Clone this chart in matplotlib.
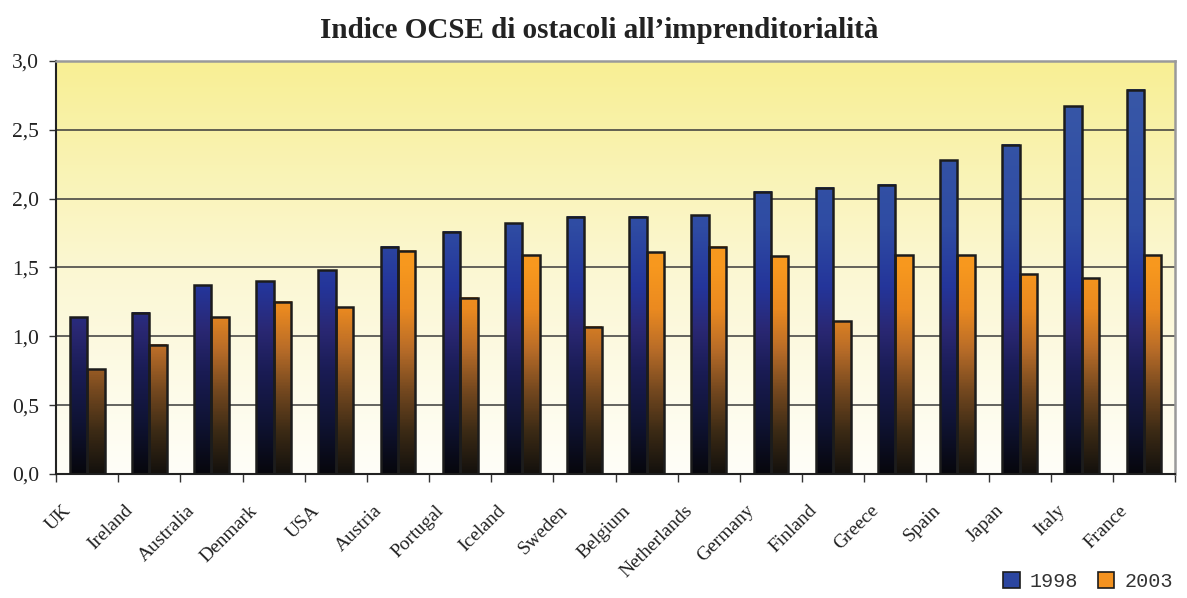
import numpy as np
import matplotlib.pyplot as plt
from matplotlib.colors import LinearSegmentedColormap, Normalize
from matplotlib.patches import Patch
from matplotlib.transforms import ScaledTranslation

countries = ['UK', 'Ireland', 'Australia', 'Denmark', 'USA', 'Austria', 'Portugal',
             'Iceland', 'Sweden', 'Belgium', 'Netherlands', 'Germany', 'Finland',
             'Greece', 'Spain', 'Japan', 'Italy', 'France']
idx_1998 = [1.14, 1.17, 1.37, 1.40, 1.48, 1.65, 1.76, 1.82, 1.87, 1.87, 1.88, 2.05,
            2.08, 2.10, 2.28, 2.39, 2.67, 2.79]
idx_2003 = [0.76, 0.94, 1.14, 1.25, 1.21, 1.62, 1.28, 1.59, 1.07, 1.61, 1.65, 1.58,
            1.11, 1.59, 1.59, 1.45, 1.42, 1.59]
series = ['1998', '2003']
y_ticks = [0.0, 0.5, 1.0, 1.5, 2.0, 2.5, 3.0]
y_ticklabels = ['0,0', '0,5', '1,0', '1,5', '2,0', '2,5', '3,0']

serif = 'Liberation Serif'

# colour ramps run on absolute height, so every bar darkens towards the baseline
blue_cmap = LinearSegmentedColormap.from_list('blue_fade', [
    (0.0, '#07070d'), (0.12, '#0f1333'), (0.25, '#1a1c55'), (0.35, '#2a2874'),
    (0.45, '#24359a'), (0.6, '#2f4ca3'), (1.0, '#3a5aa8')])
orange_cmap = LinearSegmentedColormap.from_list('orange_fade', [
    (0.0, '#14110d'), (0.1, '#3b2a15'), (0.2, '#74481f'), (0.3, '#b86c28'),
    (0.4, '#eb8a20'), (0.5, '#f7981e'), (1.0, '#f8a024')])
norm = Normalize(0, 3.0)

fig = plt.figure(figsize=(11.87, 5.98), dpi=100)
ax = fig.add_axes([0.0472, 0.2074, 0.9427, 0.6906])

# pale yellow backdrop
bg = np.linspace(0, 1, 256).reshape(-1, 1)
bg_cmap = LinearSegmentedColormap.from_list('bg', ['#fffef8', '#fbf7d2', '#f8ef94'])
ax.imshow(bg, extent=[0, 1, 0, 1], transform=ax.transAxes, origin='lower',
          aspect='auto', cmap=bg_cmap, zorder=0)

x = np.arange(len(countries))
w = 0.28
bars_a = ax.bar(x - w / 2, idx_1998, w, facecolor='none', edgecolor='#1c1c1c',
                linewidth=1.8, zorder=3)
bars_b = ax.bar(x + w / 2, idx_2003, w, facecolor='none', edgecolor='#1c1c1c',
                linewidth=1.8, zorder=3)

ramp = np.linspace(0, 3.0, 400).reshape(-1, 1)
for bars, cmap in ((bars_a, blue_cmap), (bars_b, orange_cmap)):
    for r in bars:
        x0, h, bw = r.get_x(), r.get_height(), r.get_width()
        vals = ramp[ramp[:, 0] <= h]
        ax.imshow(vals, extent=[x0, x0 + bw, 0, h], origin='lower', aspect='auto',
                  cmap=cmap, norm=norm, zorder=2, interpolation='bilinear')

ax.set_xlim(-0.5, len(countries) - 0.5)
ax.set_ylim(0, 3.0)

ax.set_yticks(y_ticks)
ax.set_yticklabels(y_ticklabels, fontsize=15.5, family=serif, color='#222222')
ax.set_xticks(np.arange(len(countries) + 1) - 0.5)
ax.set_xticklabels([])
ax.tick_params(axis='y', length=5, width=1, color='#333333', pad=7)
ax.tick_params(axis='x', length=6, width=1, color='#333333')

for yv in y_ticks[1:-1]:
    ax.axhline(yv, color='#3a3a3a', linewidth=1.1, zorder=1)

for side in ('left', 'bottom'):
    ax.spines[side].set_color('#222222')
    ax.spines[side].set_linewidth(1.5)
for side in ('top', 'right'):
    ax.spines[side].set_color('#9a9a9a')
    ax.spines[side].set_linewidth(1.8)

label_shift = ax.get_xaxis_transform() + ScaledTranslation(-0.13, -0.28, fig.dpi_scale_trans)
for xi, name in zip(x, countries):
    ax.text(xi, 0, name, transform=label_shift, rotation=45, ha='right', va='top',
            fontsize=14, family=serif, color='#222222')

fig.suptitle("Indice OCSE di ostacoli all\u2019imprenditorialità", x=0.505, y=0.972,
             fontsize=21, fontweight='bold', family=serif, color='#222222')

handles = [Patch(facecolor='#2c46a0', edgecolor='#1c1c1c', linewidth=1.2),
           Patch(facecolor='#f39220', edgecolor='#1c1c1c', linewidth=1.2)]
fig.legend(handles, series, loc='lower right', bbox_to_anchor=(1.0, -0.012), ncol=2,
           frameon=False, handlelength=0.8, handleheight=0.8, handletextpad=0.5,
           columnspacing=1.0, borderpad=0.2, labelcolor='#333333',
           prop={'family': 'Liberation Mono', 'size': 14.5})

fig.savefig('out.png', dpi=100)
